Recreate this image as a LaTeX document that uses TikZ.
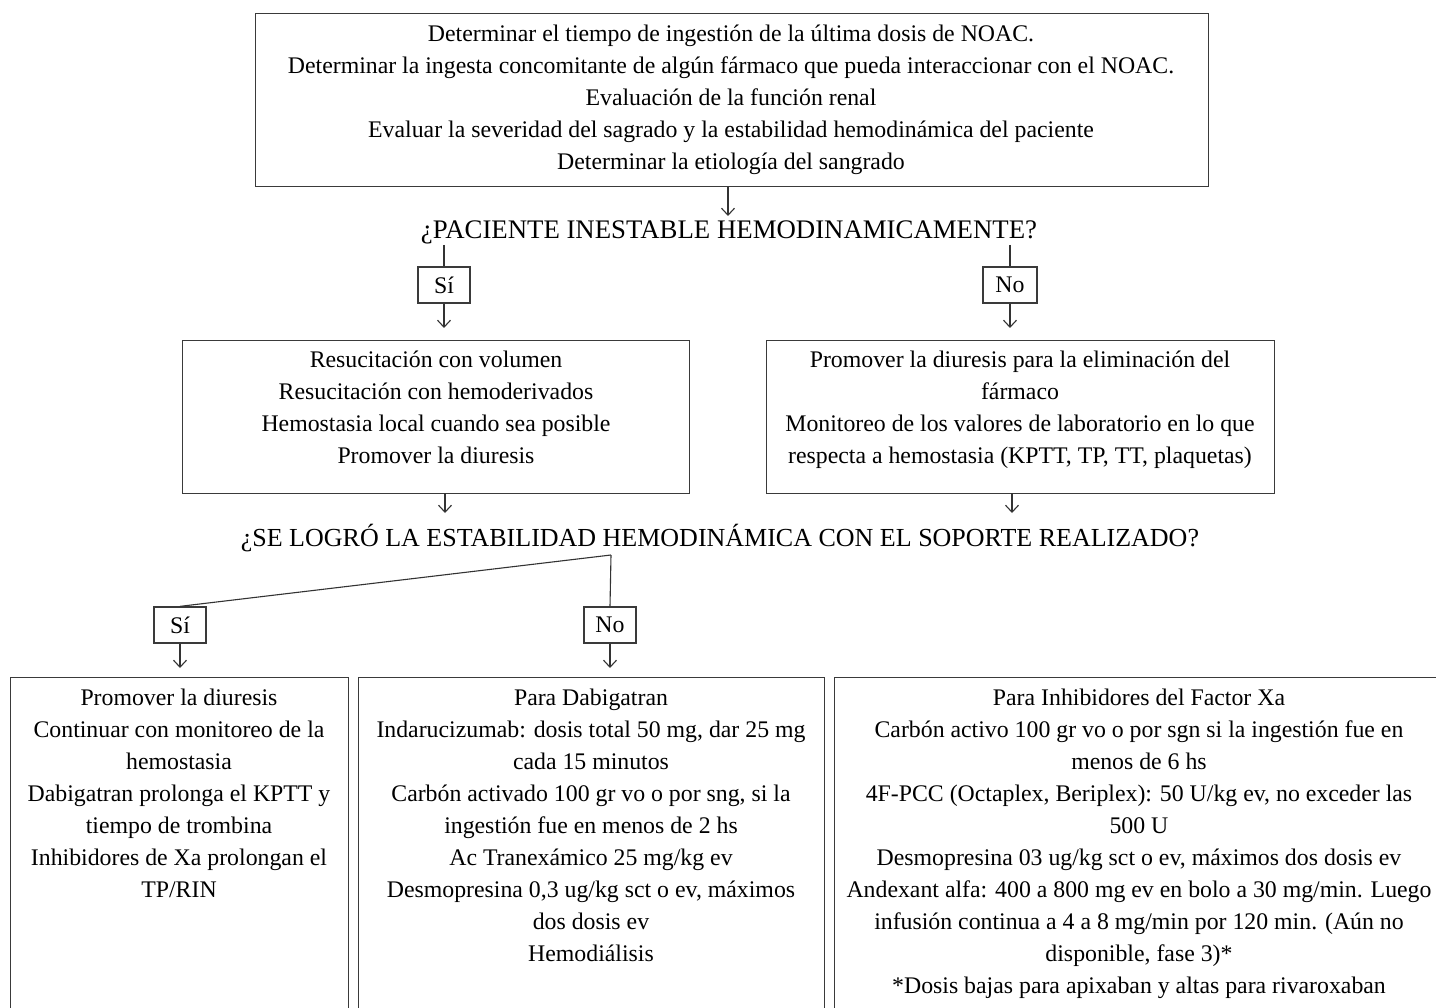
\documentclass[tikz,border=0pt]{standalone}
\usepackage{fontspec}
\setmainfont{Liberation Serif}
\usetikzlibrary{arrows.meta}
\definecolor{boxc}{HTML}{3A3A3A}
\definecolor{linec}{HTML}{333333}
\begin{document}
\begin{tikzpicture}[x=1pt,y=-1pt,
  box/.style={draw=boxc, line width=1.3pt, inner sep=0pt, anchor=north west},
  txt/.style={align=center, inner sep=0pt, anchor=base, font=\fontsize{23.8}{32}\selectfont},
  qtxt/.style={inner sep=0pt, anchor=base, font=\fontsize{26}{30}\selectfont},
  lbl/.style={draw=boxc, line width=1.3pt, inner sep=0pt, minimum width=52pt, minimum height=36pt, font=\fontsize{23.8}{28}\selectfont},
  conn/.style={draw=linec, line width=1.1pt},
  arr/.style={conn, -{Straight Barb[length=7pt,width=13pt]}}
]
\useasboundingbox (0,0) rectangle (1436,1008);
\fill[white] (0,0) rectangle (1436,1008);
\clip (0,0) rectangle (1436,1008);

% top box
\node[box, minimum width=953pt, minimum height=173pt] (top) at (255,13) {};
\node[txt] (toptxt) at (731,170) {Determinar el tiempo de ingestión de la última dosis de NOAC.\\
Determinar la ingesta concomitante de algún fármaco que pueda interaccionar con el NOAC.\\
Evaluación de la función renal\\
Evaluar la severidad del sagrado y la estabilidad hemodinámica del paciente\\
Determinar la etiología del sangrado};

% question 1
\node[qtxt, font=\fontsize{26.8}{30}\selectfont] (q1) at (729,239) {¿PACIENTE INESTABLE HEMODINAMICAMENTE?};
\coordinate (q1in) at (728,216);
\coordinate (q1si) at (444,245);
\coordinate (q1no) at (1010,245);

\node[lbl] (si1) at (444,285) {Sí};
\node[lbl, minimum width=54pt] (no1) at (1010,285) {No};

% second row boxes
\node[box, minimum width=507pt, minimum height=153pt] (left2) at (182,340) {};
\node[txt] (left2txt) at (436,463) {Resucitación con volumen\\
Resucitación con hemoderivados\\
Hemostasia local cuando sea posible\\
Promover la diuresis};
\node[box, minimum width=508pt, minimum height=153pt] (right2) at (766,340) {};
\node[txt] (right2txt) at (1020,463) {Promover la diuresis para la eliminación del\\
fármaco\\
Monitoreo de los valores de laboratorio en lo que\\
respecta a hemostasia (KPTT, TP, TT, plaquetas)};

\coordinate (l2in) at (444,328);
\coordinate (r2in) at (1010,328);
\coordinate (l2out) at (445,493);
\coordinate (r2out) at (1012,493);
\coordinate (q2inl) at (445,513);
\coordinate (q2inr) at (1012,513);

% question 2
\node[qtxt] (q2) at (720,546) {¿SE LOGRÓ LA ESTABILIDAD HEMODINÁMICA CON EL SOPORTE REALIZADO?};
\coordinate (q2j) at (611,555);

\node[lbl] (si2) at (180,625) {Sí};
\node[lbl] (no2) at (610,625) {No};

\coordinate (ain) at (180,668);
\coordinate (bin) at (610,668);

% bottom boxes
\node[box, minimum width=338pt, minimum height=360pt] (boxa) at (10,677) {};
\node[txt] (boxatxt) at (179,897) {Promover la diuresis\\
Continuar con monitoreo de la\\
hemostasia\\
Dabigatran prolonga el KPTT y\\
tiempo de trombina\\
Inhibidores de Xa prolongan el\\
TP/RIN};
\node[box, minimum width=466pt, minimum height=360pt] (boxb) at (358,677) {};
\node[txt] (boxbtxt) at (591,961) {Para Dabigatran\\
Indarucizumab: dosis total 50 mg, dar 25 mg\\
cada 15 minutos\\
Carbón activado 100 gr vo o por sng, si la\\
ingestión fue en menos de 2 hs\\
Ac Tranexámico 25 mg/kg ev\\
Desmopresina 0,3 ug/kg sct o ev, máximos\\
dos dosis ev\\
Hemodiálisis};
\node[box, minimum width=620pt, minimum height=360pt] (boxc) at (834,677) {};
\node[txt] (boxctxt) at (1139,993) {Para Inhibidores del Factor Xa\\
Carbón activo 100 gr vo o por sgn si la ingestión fue en\\
menos de 6 hs\\
4F-PCC (Octaplex, Beriplex): 50 U/kg ev, no exceder las\\
500 U\\
Desmopresina 03 ug/kg sct o ev, máximos dos dosis ev\\
Andexant alfa: 400 a 800 mg ev en bolo a 30 mg/min. Luego\\
infusión continua a 4 a 8 mg/min por 120 min. (Aún no\\
disponible, fase 3)*\\
*Dosis bajas para apixaban y altas para rivaroxaban};

% connectors
\draw[arr] (q1in |- top.south) -- (q1in);
\draw[conn] (q1si) -- (si1.north);
\draw[conn] (q1no) -- (no1.north);
\draw[arr] (si1.south) -- (l2in);
\draw[arr] (no1.south) -- (r2in);
\draw[arr] (l2out) -- (q2inl);
\draw[arr] (r2out) -- (q2inr);
\draw[conn] (q2j) -- (no2.north);
\draw[conn] (q2j) -- (si2.north);
\draw[arr] (si2.south) -- (ain);
\draw[arr] (no2.south) -- (bin);
\end{tikzpicture}
\end{document}
